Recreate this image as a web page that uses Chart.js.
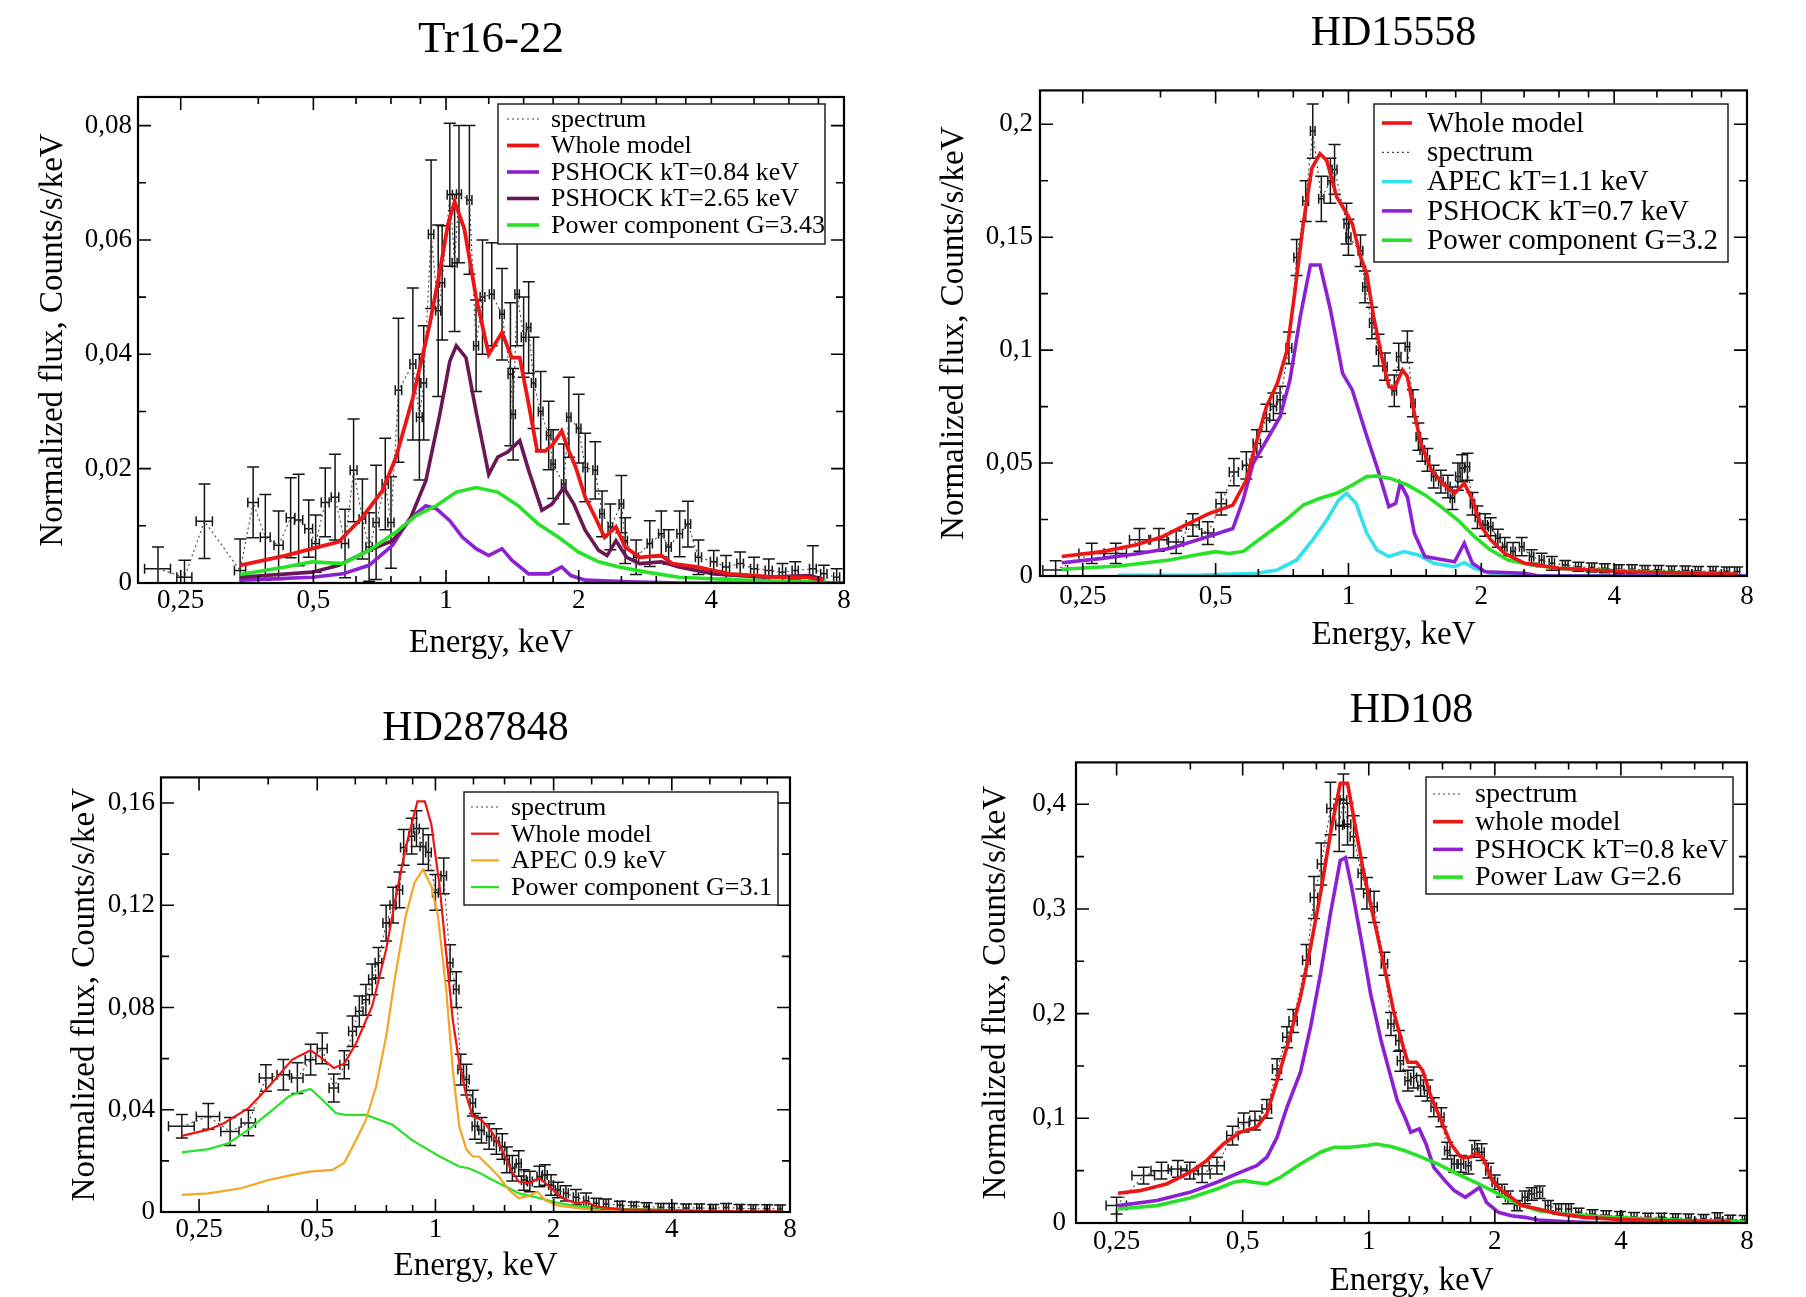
<!DOCTYPE html>
<html>
<head>
<meta charset="utf-8">
<title>X-ray spectra</title>
<script src="https://cdn.jsdelivr.net/npm/chart.js@4.4.1/dist/chart.umd.min.js"></script>
<style>
  html, body { margin: 0; padding: 0; background: #fff; overflow: hidden; }
  canvas { position: absolute; }
</style>
</head>
<body>
<canvas id="p1" width="903" height="670" style="left:0;top:0"></canvas>
<canvas id="p2" width="903" height="670" style="left:903px;top:0"></canvas>
<canvas id="p3" width="903" height="637" style="left:0;top:660px"></canvas>
<canvas id="p4" width="903" height="637" style="left:903px;top:660px"></canvas>
<script>
// shared axis ticks (keV)
const energyTicks = [0.25, 0.5, 1, 2, 4, 8];
const energyMinor = [0.375, 0.625, 0.75, 0.875, 1.25, 1.5, 1.75, 2.5, 3, 3.5, 5, 6, 7];

// ---- Tr16-22 ----
const trSpecE = [0.222,0.255,0.283,0.341,0.365,0.389,0.417,0.444,0.463,0.488,
  0.506,0.532,0.560,0.590,0.617,0.646,0.669,0.694,0.728,0.750,
  0.780,0.841,0.870,0.890,0.925,0.960,0.980,1.020,1.046,1.070,
  1.130,1.170,1.210,1.270,1.340,1.400,1.420,1.450,1.500,1.540,
  1.580,1.640,1.710,1.750,1.850,1.900,2.000,2.070,2.180,2.260,
  2.360,2.500,2.550,2.700,2.900,3.080,3.200,3.390,3.540,3.740,
  4.050,4.320,4.650,5.000,5.400,5.800,6.200,6.800,7.200,7.700];
const trSpecF = [0.0025,0.0010,0.0108,0.0022,0.0141,0.0080,0.0066,0.0114,0.0110,0.0095,
  0.0069,0.0141,0.0150,0.0069,0.0197,0.0112,0.0063,0.0106,0.0173,0.0106,
  0.0337,0.0383,0.0290,0.0350,0.0610,0.0476,0.0525,0.0679,0.0560,0.0680,
  0.0670,0.0415,0.0500,0.0505,0.0470,0.0365,0.0295,0.0505,0.0430,0.0447,
  0.0350,0.0300,0.0258,0.0208,0.0173,0.0290,0.0270,0.0202,0.0197,0.0121,
  0.0098,0.0138,0.0074,0.0045,0.0069,0.0086,0.0063,0.0086,0.0103,0.0045,
  0.0037,0.0028,0.0034,0.0025,0.0022,0.0019,0.0022,0.0025,0.0016,0.0010];
const trSpecErr = [0.0038,0.0030,0.0065,0.0055,0.0062,0.0075,0.0060,0.0070,0.0080,0.0050,
  0.0050,0.0060,0.0075,0.0060,0.0090,0.0070,0.0060,0.0100,0.0080,0.0080,
  0.0126,0.0133,0.0110,0.0100,0.0130,0.0150,0.0100,0.0125,0.0120,0.0120,
  0.0130,0.0080,0.0100,0.0090,0.0080,0.0125,0.0080,0.0090,0.0070,0.0080,
  0.0080,0.0070,0.0060,0.0060,0.0070,0.0070,0.0060,0.0060,0.0050,0.0040,
  0.0040,0.0050,0.0040,0.0030,0.0040,0.0040,0.0030,0.0040,0.0040,0.0030,
  0.0020,0.0020,0.0020,0.0020,0.0020,0.0015,0.0015,0.0040,0.0015,0.0015];
const trSpecEw = [0.015,0.010,0.012,0.010,0.010,0.010,0.010,0.010,0.010,0.010,
  0.010,0.011,0.011,0.011,0.011,0.011,0.011,0.011,0.012,0.012,
  0.013,0.013,0.013,0.013,0.013,0.013,0.013,0.014,0.014,0.014,
  0.015,0.015,0.015,0.016,0.016,0.017,0.017,0.017,0.018,0.018,
  0.018,0.020,0.020,0.020,0.022,0.022,0.024,0.025,0.026,0.027,
  0.028,0.030,0.030,0.035,0.040,0.045,0.045,0.050,0.050,0.060,
  0.070,0.080,0.080,0.090,0.100,0.100,0.100,0.120,0.120,0.120];
const trWholeE = [0.341,0.432,0.497,0.571,0.646,0.718,0.770,0.841,0.918,0.968,1.010,1.046,1.10,1.17,1.25,1.34,1.41,1.47,1.54,1.61,
  1.68,1.75,1.83,1.90,1.97,2.07,2.18,2.29,2.43,2.55,2.75,3.08,3.26,3.70,4.40,5.72,6.6,7.2];
const trWholeF = [0.0031,0.0048,0.0060,0.0072,0.0115,0.0162,0.0220,0.0324,0.0452,0.0545,0.0627,0.0667,0.0620,0.0500,0.0400,0.0438,0.0394,0.0394,0.0313,0.0231,
  0.0231,0.0243,0.0266,0.0231,0.0202,0.0150,0.0115,0.0080,0.0098,0.0063,0.0045,0.0048,0.0034,0.0028,0.0016,0.0010,0.0010,0.0005];
const trPsLowE = [0.341,0.497,0.583,0.669,0.756,0.826,0.900,0.950,1.020,1.090,1.170,1.250,1.340,1.410,1.540,1.710,1.830,1.920,2.070,2.600,3.400,8.000];
const trPsLowF = [0.0005,0.0010,0.0016,0.0031,0.0066,0.0112,0.0135,0.0130,0.0109,0.0080,0.0060,0.0048,0.0060,0.0040,0.0016,0.0016,0.0028,0.0013,0.0005,0.0002,0,0];
const trPsHighE = [0.341,0.497,0.571,0.669,0.756,0.826,0.900,0.968,1.020,1.055,1.110,1.170,1.250,1.310,1.380,1.470,1.540,1.650,1.740,1.850,
  1.950,2.070,2.220,2.320,2.430,2.570,2.750,3.080,3.380,4.050,5.260,6.700,7.200];
const trPsHighF = [0.0010,0.0019,0.0031,0.0057,0.0074,0.0109,0.0179,0.0295,0.0388,0.0415,0.0394,0.0300,0.0190,0.0220,0.0229,0.0249,0.0197,0.0127,0.0138,0.0167,
  0.0138,0.0092,0.0057,0.0048,0.0074,0.0045,0.0034,0.0037,0.0028,0.0016,0.0010,0.0013,0.0006];
const trPowE = [0.341,0.432,0.497,0.583,0.669,0.770,0.855,0.950,1.055,1.170,1.310,1.460,1.620,1.800,2.000,2.220,2.470,2.850,3.380,4.400,5.700,7.300];
const trPowF = [0.0015,0.0028,0.0037,0.0034,0.0057,0.0089,0.0118,0.0135,0.0159,0.0167,0.0159,0.0135,0.0103,0.0080,0.0054,0.0037,0.0028,0.0019,0.0010,0.0006,0.0003,0.0002];

// ---- HD15558 ----
const h155SpecE = [0.217,0.262,0.297,0.336,0.372,0.407,0.444,0.480,0.515,0.550,
  0.587,0.620,0.652,0.676,0.700,0.733,0.763,0.800,0.830,0.868,
  0.910,0.930,0.990,1.000,1.065,1.090,1.130,1.170,1.210,1.270,
  1.300,1.360,1.400,1.440,1.470,1.510,1.560,1.620,1.680,1.720,
  1.770,1.810,1.860,1.910,1.960,2.040,2.100,2.180,2.260,2.360,
  2.470,2.600,2.740,2.890,3.100,3.320,3.560,3.810,4.100,4.390,
  4.700,5.040,5.400,5.800,6.200,6.700,7.200,7.600];
const h155SpecF = [0.0027,0.0100,0.0100,0.0160,0.0160,0.0150,0.0226,0.0190,0.0320,0.0460,
  0.0490,0.0587,0.0700,0.0750,0.0780,0.1010,0.1410,0.1660,0.1970,0.1670,
  0.1750,0.1800,0.1560,0.1500,0.1440,0.1280,0.1120,0.1000,0.0927,0.0820,
  0.0971,0.1015,0.0765,0.0617,0.0558,0.0514,0.0440,0.0418,0.0396,0.0344,
  0.0440,0.0477,0.0484,0.0320,0.0260,0.0226,0.0218,0.0167,0.0130,0.0108,
  0.0130,0.0086,0.0071,0.0056,0.0049,0.0041,0.0038,0.0034,0.0030,0.0030,
  0.0027,0.0027,0.0024,0.0024,0.0022,0.0022,0.0020,0.0020];
const h155SpecErr = [0.0040,0.0045,0.0045,0.0050,0.0050,0.0050,0.0050,0.0050,0.0050,0.0060,
  0.0060,0.0060,0.0060,0.0060,0.0060,0.0070,0.0080,0.0090,0.0120,0.0100,
  0.0100,0.0110,0.0090,0.0080,0.0070,0.0070,0.0070,0.0070,0.0060,0.0070,
  0.0060,0.0070,0.0060,0.0060,0.0050,0.0050,0.0050,0.0050,0.0050,0.0050,
  0.0060,0.0060,0.0060,0.0050,0.0050,0.0050,0.0040,0.0040,0.0040,0.0040,
  0.0040,0.0030,0.0030,0.0030,0.0020,0.0020,0.0020,0.0020,0.0020,0.0020,
  0.0020,0.0020,0.0020,0.0020,0.0020,0.0020,0.0020,0.0020];
const h155SpecEw = [0.014,0.017,0.017,0.017,0.016,0.016,0.015,0.015,0.014,0.013,
  0.012,0.012,0.011,0.011,0.011,0.011,0.011,0.012,0.010,0.012,
  0.012,0.012,0.013,0.013,0.013,0.013,0.014,0.014,0.014,0.015,
  0.015,0.016,0.016,0.017,0.017,0.018,0.018,0.019,0.020,0.020,
  0.021,0.021,0.022,0.022,0.023,0.024,0.025,0.026,0.027,0.028,
  0.030,0.030,0.035,0.040,0.045,0.050,0.050,0.060,0.060,0.070,
  0.070,0.080,0.080,0.090,0.090,0.100,0.100,0.100];
const h155WholeE = [0.224,0.277,0.329,0.379,0.428,0.484,0.547,0.587,0.62,0.652,0.69,0.726,0.757,0.79,0.826,0.862,0.893,0.94,0.99,1.02,
  1.065,1.10,1.14,1.19,1.235,1.27,1.325,1.36,1.41,1.46,1.54,1.65,1.74,1.83,1.91,2.0,2.1,2.26,2.51,3.0,4.25,7.6];
const h155WholeF = [0.0086,0.0108,0.0137,0.0174,0.0226,0.0277,0.0314,0.0425,0.060,0.075,0.0853,0.100,0.1266,0.156,0.1805,0.187,0.184,0.168,0.1606,0.156,
  0.1414,0.134,0.115,0.097,0.0838,0.083,0.0912,0.0883,0.072,0.0587,0.047,0.0403,0.0366,0.041,0.0337,0.0218,0.016,0.010,0.0056,0.0034,0.0019,0.0009];
const h155ApecE = [0.3,0.468,0.62,0.69,0.763,0.83,0.893,0.95,0.99,1.04,1.10,1.16,1.235,1.335,1.44,1.56,1.74,1.83,1.93,2.1,2.51,2.8,8];
const h155ApecF = [0.0003,0.0004,0.0012,0.0027,0.0071,0.016,0.0248,0.0336,0.0366,0.0322,0.019,0.0115,0.0086,0.0108,0.0093,0.0056,0.0041,0.0059,0.0034,0.0012,0.0003,0,0];
const h155PsE = [0.224,0.277,0.329,0.393,0.468,0.547,0.577,0.608,0.652,0.70,0.737,0.778,0.82,0.862,0.91,0.97,1.02,1.10,1.16,1.235,
  1.28,1.31,1.36,1.41,1.49,1.65,1.74,1.83,1.91,2.04,2.51,2.7,8];
const h155PsF = [0.0059,0.0078,0.0097,0.0122,0.0167,0.021,0.0336,0.0499,0.060,0.0705,0.0868,0.115,0.1377,0.1377,0.118,0.0897,0.0824,0.062,0.0484,0.0307,
  0.0322,0.041,0.035,0.0189,0.0086,0.0071,0.0063,0.0145,0.0056,0.0019,0.0012,0,0];
const h155PowE = [0.224,0.302,0.393,0.45,0.50,0.535,0.577,0.64,0.713,0.79,0.862,0.94,1.02,1.10,1.16,1.245,1.36,1.49,1.62,1.77,
  1.93,2.1,2.3,2.6,3.0,3.9,5.5,7.6];
const h155PowF = [0.003,0.0044,0.0071,0.0093,0.0108,0.010,0.0108,0.0174,0.024,0.0314,0.0344,0.0366,0.0403,0.044,0.0443,0.0432,0.0403,0.0359,0.0307,0.0248,
  0.0174,0.0115,0.0071,0.0049,0.0034,0.0024,0.0015,0.0009];

// ---- HD287848 ----
const h287SpecE = [0.226,0.264,0.300,0.334,0.370,0.410,0.445,0.481,0.515,0.551,
  0.586,0.615,0.640,0.665,0.690,0.716,0.749,0.780,0.810,0.830,
  0.870,0.895,0.930,0.960,1.000,1.050,1.090,1.130,1.160,1.200,
  1.245,1.260,1.310,1.370,1.430,1.480,1.520,1.570,1.630,1.680,
  1.740,1.840,1.900,1.970,2.050,2.150,2.280,2.420,2.570,2.720,
  2.950,3.200,3.450,3.750,4.000,4.350,4.700,5.100,5.500,5.950,
  6.450,7.000,7.550];
const h287SpecF = [0.0335,0.0374,0.0315,0.0348,0.0524,0.0537,0.0524,0.0596,0.0640,0.0485,
  0.0576,0.0707,0.0785,0.0830,0.0910,0.0975,0.1130,0.1200,0.1260,0.1426,
  0.1470,0.1500,0.1430,0.1406,0.1250,0.1315,0.0975,0.0870,0.0557,0.0518,
  0.0426,0.0335,0.0320,0.0295,0.0276,0.0256,0.0204,0.0171,0.0190,0.0125,
  0.0119,0.0139,0.0145,0.0106,0.0086,0.0073,0.0058,0.0044,0.0034,0.0031,
  0.0027,0.0024,0.0021,0.0018,0.0018,0.0016,0.0016,0.0014,0.0018,0.0014,
  0.0013,0.0013,0.0012];
const h287SpecErr = [0.0046,0.0050,0.0055,0.0050,0.0052,0.0060,0.0060,0.0060,0.0060,0.0055,
  0.0055,0.0060,0.0060,0.0060,0.0060,0.0060,0.0070,0.0070,0.0070,0.0070,
  0.0070,0.0070,0.0070,0.0070,0.0070,0.0070,0.0070,0.0070,0.0060,0.0060,
  0.0050,0.0050,0.0050,0.0050,0.0050,0.0050,0.0050,0.0050,0.0050,0.0040,
  0.0040,0.0040,0.0040,0.0040,0.0030,0.0030,0.0030,0.0030,0.0020,0.0020,
  0.0015,0.0015,0.0015,0.0015,0.0015,0.0015,0.0015,0.0015,0.0015,0.0015,
  0.0015,0.0015,0.0015];
const h287SpecEw = [0.017,0.018,0.016,0.014,0.014,0.015,0.015,0.015,0.015,0.015,
  0.015,0.014,0.014,0.014,0.014,0.014,0.014,0.014,0.015,0.015,
  0.015,0.015,0.016,0.016,0.017,0.017,0.018,0.018,0.019,0.019,
  0.020,0.020,0.020,0.020,0.021,0.022,0.022,0.023,0.024,0.024,
  0.025,0.026,0.027,0.028,0.030,0.030,0.035,0.035,0.040,0.040,
  0.045,0.050,0.050,0.060,0.060,0.070,0.070,0.080,0.080,0.090,
  0.090,0.100,0.100];
const h287WholeE = [0.226,0.264,0.29,0.334,0.376,0.432,0.481,0.515,0.551,0.586,0.628,0.69,0.749,0.79,0.84,0.885,0.90,0.94,0.976,1.025,
  1.065,1.107,1.15,1.2,1.245,1.31,1.39,1.48,1.555,1.63,1.73,1.84,1.95,2.11,2.28,2.42,2.57,2.95,3.6,4.8,7.5];
const h287WholeF = [0.0298,0.0322,0.0348,0.0406,0.049,0.0596,0.0633,0.060,0.0563,0.058,0.066,0.0805,0.1027,0.122,0.1426,0.1563,0.1606,0.1606,0.1517,0.1275,
  0.1014,0.0753,0.0583,0.0452,0.0374,0.036,0.0315,0.0243,0.0165,0.0119,0.0112,0.0132,0.0099,0.0054,0.0034,0.004,0.0021,0.001,0.0008,0.0004,0.0003];
const h287ApecE = [0.226,0.264,0.32,0.376,0.432,0.477,0.547,0.586,0.628,0.665,0.706,0.749,0.79,0.84,0.885,0.93,0.976,1.015,1.065,1.107,
  1.15,1.2,1.245,1.29,1.37,1.45,1.54,1.63,1.73,1.82,1.9,2.03,2.33,2.68,4.0];
const h287ApecF = [0.0067,0.0073,0.0093,0.0125,0.0145,0.0158,0.0165,0.0193,0.0282,0.036,0.049,0.0687,0.0923,0.1158,0.1289,0.134,0.1275,0.1158,0.087,0.0557,
  0.0335,0.0243,0.0217,0.0217,0.0178,0.0139,0.0086,0.0054,0.0063,0.008,0.0047,0.0027,0.0014,0.0005,0.0001];
const h287PowE = [0.226,0.264,0.297,0.334,0.376,0.423,0.457,0.481,0.515,0.557,0.59,0.665,0.778,0.87,1.025,1.15,1.215,1.30,1.37,1.54,
  1.63,1.80,2.03,2.33,2.95,4.6];
const h287PowF = [0.0233,0.0246,0.0269,0.0322,0.0387,0.0452,0.0472,0.0481,0.0439,0.0387,0.038,0.038,0.0341,0.0282,0.0217,0.0178,0.0171,0.0152,0.0132,0.0093,
  0.0073,0.0058,0.0037,0.0021,0.0012,0.0005];

// ---- HD108 ----
const h108SpecE = [0.250,0.290,0.320,0.350,0.374,0.400,0.434,0.473,0.503,0.535,
  0.571,0.604,0.638,0.660,0.710,0.740,0.770,0.810,0.850,0.870,
  0.890,0.920,0.960,0.990,1.030,1.090,1.130,1.180,1.190,1.240,
  1.280,1.330,1.380,1.430,1.490,1.540,1.600,1.660,1.730,1.790,
  1.860,1.930,2.000,2.080,2.150,2.260,2.360,2.450,2.560,2.680,
  2.840,3.000,3.170,3.420,3.690,3.980,4.300,4.640,5.000,5.400,
  5.800,6.300,6.800,7.300,7.900];
const h108SpecF = [0.0166,0.0453,0.0500,0.0516,0.0500,0.0468,0.0548,0.0835,0.0960,0.0978,
  0.1090,0.1470,0.1775,0.1930,0.2510,0.3110,0.3430,0.3960,0.3800,0.4040,
  0.3810,0.3690,0.3340,0.3150,0.3020,0.2476,0.1900,0.1740,0.1550,0.1360,
  0.1390,0.1310,0.1265,0.1106,0.1010,0.0692,0.0564,0.0564,0.0548,0.0708,
  0.0676,0.0500,0.0389,0.0309,0.0245,0.0166,0.0245,0.0277,0.0293,0.0166,
  0.0134,0.0134,0.0102,0.0086,0.0076,0.0070,0.0060,0.0054,0.0054,0.0048,
  0.0045,0.0041,0.0048,0.0035,0.0032];
const h108SpecErr = [0.0080,0.0080,0.0080,0.0080,0.0080,0.0080,0.0080,0.0090,0.0090,0.0090,
  0.0090,0.0100,0.0100,0.0110,0.0150,0.0200,0.0200,0.0250,0.0250,0.0250,
  0.0200,0.0200,0.0150,0.0150,0.0150,0.0110,0.0110,0.0100,0.0100,0.0100,
  0.0100,0.0100,0.0100,0.0090,0.0090,0.0080,0.0080,0.0080,0.0080,0.0080,
  0.0080,0.0070,0.0070,0.0060,0.0060,0.0050,0.0060,0.0060,0.0060,0.0050,
  0.0050,0.0050,0.0040,0.0040,0.0040,0.0040,0.0040,0.0040,0.0040,0.0040,
  0.0040,0.0040,0.0050,0.0040,0.0040];
const h108SpecEw = [0.014,0.018,0.018,0.018,0.018,0.018,0.018,0.015,0.015,0.015,
  0.015,0.015,0.015,0.015,0.015,0.015,0.016,0.016,0.016,0.016,
  0.016,0.017,0.017,0.018,0.018,0.019,0.019,0.020,0.020,0.020,
  0.021,0.021,0.022,0.022,0.023,0.023,0.024,0.025,0.025,0.026,
  0.027,0.028,0.030,0.030,0.030,0.035,0.035,0.035,0.040,0.040,
  0.045,0.045,0.050,0.050,0.060,0.060,0.070,0.070,0.080,0.080,
  0.090,0.090,0.100,0.100,0.100];
const h108WholeE = [0.252,0.284,0.329,0.374,0.41,0.45,0.493,0.54,0.571,0.604,0.638,0.687,0.726,0.767,0.81,0.855,0.89,0.92,0.97,1.03,
  1.09,1.15,1.215,1.24,1.30,1.345,1.41,1.49,1.57,1.66,1.74,1.81,1.88,1.97,2.08,2.19,2.32,2.54,2.84,3.28,3.95,5.1,7.3];
const h108WholeF = [0.0284,0.0309,0.0373,0.0484,0.0596,0.0755,0.0867,0.0915,0.104,0.136,0.168,0.2158,0.2636,0.3146,0.372,0.42,0.42,0.388,0.337,0.289,
  0.2445,0.20,0.165,0.1536,0.1536,0.1456,0.120,0.0978,0.0755,0.0628,0.0628,0.0666,0.0612,0.0405,0.0309,0.0245,0.0166,0.0134,0.0086,0.0054,0.0035,0.0022,0.0013];
const h108PsE = [0.252,0.312,0.374,0.434,0.493,0.54,0.571,0.604,0.638,0.687,0.726,0.767,0.81,0.855,0.88,0.91,0.96,1.01,1.07,1.13,
  1.17,1.22,1.26,1.32,1.37,1.43,1.52,1.60,1.70,1.77,1.84,1.91,2.04,2.19,2.36,2.54,2.93,3.5,4.2,8];
const h108PsF = [0.0166,0.0214,0.0293,0.0389,0.0484,0.0548,0.0628,0.0819,0.1106,0.144,0.187,0.238,0.2954,0.3464,0.349,0.321,0.27,0.219,0.1743,0.139,
  0.117,0.101,0.0867,0.0899,0.0755,0.0532,0.0405,0.0309,0.0245,0.0293,0.0341,0.0198,0.0102,0.007,0.0054,0.0029,0.0013,0.0003,0,0];
const h108PowE = [0.252,0.312,0.374,0.434,0.476,0.503,0.531,0.571,0.615,0.687,0.767,0.825,0.90,0.99,1.04,1.13,1.215,1.31,1.46,1.63,
  1.83,2.04,2.27,2.54,2.93,3.53,4.66,6.1,7.9];
const h108PowF = [0.0134,0.0166,0.0239,0.0325,0.0389,0.0405,0.0389,0.0373,0.0437,0.0564,0.0676,0.0723,0.0723,0.074,0.0755,0.073,0.0692,0.0644,0.0564,0.0468,
  0.0373,0.0277,0.0182,0.0118,0.0086,0.0061,0.0038,0.0022,0.0013];

const SERIF = "'Liberation Serif', 'DejaVu Serif', serif";
const RED = 'rgb(236, 22, 22)';
const PURPLE = 'rgb(140, 32, 210)';
const MAROON = 'rgb(105, 24, 85)';
const GREEN = 'rgb(40, 226, 40)';
const CYAN = 'rgb(48, 226, 236)';
const ORANGE = 'rgb(242, 166, 36)';

Chart.defaults.color = '#000';

function pts(xs, ys) {
  return xs.map((v, i) => ({ x: v, y: ys[i] }));
}

function model(label, xs, ys, color, width, order) {
  return { label: label, data: pts(xs, ys), showLine: true, borderColor: color, backgroundColor: color,
    borderWidth: width, pointRadius: 0, tension: 0, order: order };
}

function spectrum(xs, ys, errY, errX) {
  return { label: 'spectrum', data: pts(xs, ys), errY: errY, errX: errX, showLine: true,
    borderColor: '#444', borderWidth: 1.1, borderDash: [2, 3], pointRadius: 0, order: 20 };
}

function fmt(v) {
  return v === 0 ? '0' : String(v).replace('.', ',');
}

// error bars drawn under the model curves
const errorBars = {
  id: 'errorBars',
  beforeDatasetsDraw(chart) {
    const { ctx, chartArea: a, scales: { x, y } } = chart;
    ctx.save();
    ctx.beginPath();
    ctx.rect(a.left, a.top, a.width, a.height);
    ctx.clip();
    ctx.strokeStyle = '#161616';
    ctx.lineWidth = 1.5;
    chart.data.datasets.forEach(ds => {
      if (!ds.errY) return;
      ds.data.forEach((p, i) => {
        const px = x.getPixelForValue(p.x), py = y.getPixelForValue(p.y);
        const yt = y.getPixelForValue(p.y + ds.errY[i]), yb = y.getPixelForValue(p.y - ds.errY[i]);
        const xl = x.getPixelForValue(p.x - ds.errX[i]), xr = x.getPixelForValue(p.x + ds.errX[i]);
        ctx.beginPath();
        ctx.moveTo(px, yt); ctx.lineTo(px, yb);
        ctx.moveTo(px - 6, yt); ctx.lineTo(px + 6, yt);
        ctx.moveTo(px - 6, yb); ctx.lineTo(px + 6, yb);
        ctx.moveTo(xl, py); ctx.lineTo(xr, py);
        ctx.moveTo(xl, py - 5); ctx.lineTo(xl, py + 5);
        ctx.moveTo(xr, py - 5); ctx.lineTo(xr, py + 5);
        ctx.stroke();
      });
    });
    ctx.restore();
  }
};

// box around the plot with inward ticks on all four sides
const frameTicks = {
  id: 'frameTicks',
  afterDatasetsDraw(chart, args, o) {
    const { ctx, chartArea: a, scales: { x, y } } = chart;
    ctx.save();
    ctx.strokeStyle = '#000';
    ctx.lineWidth = 1.6;
    ctx.beginPath();
    const xt = (vals, len) => vals.forEach(v => {
      const px = x.getPixelForValue(v);
      ctx.moveTo(px, a.top); ctx.lineTo(px, a.top + len);
      ctx.moveTo(px, a.bottom); ctx.lineTo(px, a.bottom - len);
    });
    const yt = (vals, len) => vals.forEach(v => {
      const py = y.getPixelForValue(v);
      ctx.moveTo(a.left, py); ctx.lineTo(a.left + len, py);
      ctx.moveTo(a.right, py); ctx.lineTo(a.right - len, py);
    });
    xt(o.xMajor, 13); xt(o.xMinor, 7);
    yt(o.yMajor, 13); yt(o.yMinor, 8);
    ctx.stroke();
    ctx.lineWidth = 2.2;
    ctx.strokeRect(a.left, a.top, a.width, a.height);
    ctx.restore();
  }
};

// legend box inside the plot, grace style
const boxLegend = {
  id: 'boxLegend',
  afterDraw(chart, args, o) {
    const ctx = chart.ctx;
    ctx.save();
    ctx.fillStyle = '#fff';
    ctx.fillRect(o.left, o.top, o.width, o.height);
    ctx.strokeStyle = '#222';
    ctx.lineWidth = 1.5;
    ctx.strokeRect(o.left, o.top, o.width, o.height);
    ctx.font = o.size + 'px ' + SERIF;
    ctx.textBaseline = 'middle';
    chart.data.datasets.forEach((ds, i) => {
      const yy = o.top + o.first + i * o.gap;
      ctx.beginPath();
      ctx.setLineDash(ds.borderDash || []);
      ctx.lineWidth = ds.errY ? 1.2 : ds.borderWidth;
      ctx.strokeStyle = ds.borderColor;
      ctx.moveTo(o.lineX[0], yy);
      ctx.lineTo(o.lineX[1], yy);
      ctx.stroke();
      ctx.setLineDash([]);
      ctx.fillStyle = '#000';
      ctx.fillText(ds.label, o.textX, yy + 1);
    });
    ctx.restore();
  }
};

function drawPanel(id, o) {
  const tickFont = { family: SERIF, size: 27 };
  const axisFont = { family: SERIF, size: 33, lineHeight: 1.2 };
  new Chart(document.getElementById(id), {
    type: 'scatter',
    data: { datasets: o.datasets },
    options: {
      responsive: false,
      animation: false,
      events: [],
      layout: { padding: { left: 0, right: o.padRight, top: 0, bottom: 0 } },
      plugins: {
        legend: { display: false },
        tooltip: { enabled: false },
        title: { display: true, text: o.title, fullSize: false, color: '#000',
          font: { family: SERIF, size: o.titleSize, weight: 'normal', lineHeight: 1.2 },
          padding: { top: o.titlePad[0], bottom: o.titlePad[1] } },
        frameTicks: { xMajor: energyTicks, xMinor: energyMinor, yMajor: o.yTicks, yMinor: o.yMinor },
        boxLegend: o.legend
      },
      scales: {
        x: {
          type: 'logarithmic', min: 0.2, max: 8,
          grid: { display: false, drawTicks: false }, border: { display: false },
          ticks: { font: tickFont, color: '#000', padding: o.xTickPad, autoSkip: false, maxRotation: 0, minRotation: 0, callback: fmt },
          title: { display: true, text: 'Energy, keV', color: '#000', font: axisFont, padding: { top: 0, bottom: o.xTitlePad } },
          afterBuildTicks: s => { s.ticks = energyTicks.map(v => ({ value: v })); },
          afterFit: s => { s.height = o.xHeight; }
        },
        y: {
          type: 'linear', min: 0, max: o.yMax,
          grid: { display: false, drawTicks: false }, border: { display: false },
          ticks: { font: tickFont, color: '#000', padding: o.yTickPad, autoSkip: false, callback: fmt },
          title: { display: true, text: 'Normalized flux, Counts/s/keV', color: '#000', font: axisFont, padding: { top: o.yTitlePad, bottom: 0 } },
          afterBuildTicks: s => { s.ticks = o.yTicks.map(v => ({ value: v })); },
          afterFit: s => { s.width = o.yWidth; }
        }
      }
    },
    plugins: [errorBars, frameTicks, boxLegend]
  });
}

drawPanel('p1', {
  title: 'Tr16-22', titleSize: 45, titlePad: [13, 30],
  padRight: 59, yWidth: 138, xHeight: 87, xTickPad: 2, xTitlePad: 7, yTickPad: 6, yTitlePad: 34,
  yMax: 0.085, yTicks: [0, 0.02, 0.04, 0.06, 0.08], yMinor: [0.01, 0.03, 0.05, 0.07],
  legend: { left: 498, top: 104, width: 327, height: 140, first: 15, gap: 26.5, lineX: [507, 539], textX: 551, size: 26 },
  datasets: [
    spectrum(trSpecE, trSpecF, trSpecErr, trSpecEw),
    model('Whole model', trWholeE, trWholeF, RED, 3.8, 0),
    model('PSHOCK kT=0.84 keV', trPsLowE, trPsLowF, PURPLE, 3.6, 3),
    model('PSHOCK kT=2.65 keV', trPsHighE, trPsHighF, MAROON, 3.6, 2),
    model('Power component G=3.43', trPowE, trPowF, GREEN, 3.6, 1)
  ]
});

drawPanel('p2', {
  title: 'HD15558', titleSize: 42, titlePad: [9, 31],
  padRight: 59, yWidth: 137, xHeight: 94, xTickPad: 5, xTitlePad: 15, yTickPad: 7, yTitlePad: 32,
  yMax: 0.215, yTicks: [0, 0.05, 0.1, 0.15, 0.2], yMinor: [0.025, 0.075, 0.125, 0.175],
  legend: { left: 471, top: 104, width: 354, height: 158, first: 19, gap: 29.3, lineX: [479, 509], textX: 524, size: 29 },
  datasets: [
    model('Whole model', h155WholeE, h155WholeF, RED, 3.6, 0),
    spectrum(h155SpecE, h155SpecF, h155SpecErr, h155SpecEw),
    model('APEC kT=1.1 keV', h155ApecE, h155ApecF, CYAN, 3.6, 3),
    model('PSHOCK kT=0.7 keV', h155PsE, h155PsF, PURPLE, 3.6, 2),
    model('Power component G=3.2', h155PowE, h155PowF, GREEN, 3.6, 1)
  ]
});

drawPanel('p3', {
  title: 'HD287848', titleSize: 42, titlePad: [44, 23],
  padRight: 113, yWidth: 161, xHeight: 85, xTickPad: 2, xTitlePad: 11, yTickPad: 6, yTitlePad: 66,
  yMax: 0.17, yTicks: [0, 0.04, 0.08, 0.12, 0.16], yMinor: [0.02, 0.06, 0.1, 0.14],
  legend: { left: 464, top: 132, width: 314, height: 113, first: 15, gap: 26.7, lineX: [471, 499], textX: 511, size: 26 },
  datasets: [
    spectrum(h287SpecE, h287SpecF, h287SpecErr, h287SpecEw),
    model('Whole model', h287WholeE, h287WholeF, RED, 2.2, 0),
    model('APEC 0.9 keV', h287ApecE, h287ApecF, ORANGE, 2.2, 1),
    model('Power component G=3.1', h287PowE, h287PowF, GREEN, 2.2, 2)
  ]
});

drawPanel('p4', {
  title: 'HD108', titleSize: 42, titlePad: [26, 26],
  padRight: 59, yWidth: 173, xHeight: 74, xTickPad: 3, xTitlePad: -4, yTickPad: 10, yTitlePad: 74,
  yMax: 0.44, yTicks: [0, 0.1, 0.2, 0.3, 0.4], yMinor: [0.05, 0.15, 0.25, 0.35],
  legend: { left: 523, top: 117, width: 307, height: 117, first: 17, gap: 27.7, lineX: [530, 560], textX: 572, size: 28 },
  datasets: [
    spectrum(h108SpecE, h108SpecF, h108SpecErr, h108SpecEw),
    model('whole model', h108WholeE, h108WholeF, RED, 3.6, 0),
    model('PSHOCK kT=0.8 keV', h108PsE, h108PsF, PURPLE, 3.6, 2),
    model('Power Law G=2.6', h108PowE, h108PowF, GREEN, 3.6, 1)
  ]
});
</script>
</body>
</html>
